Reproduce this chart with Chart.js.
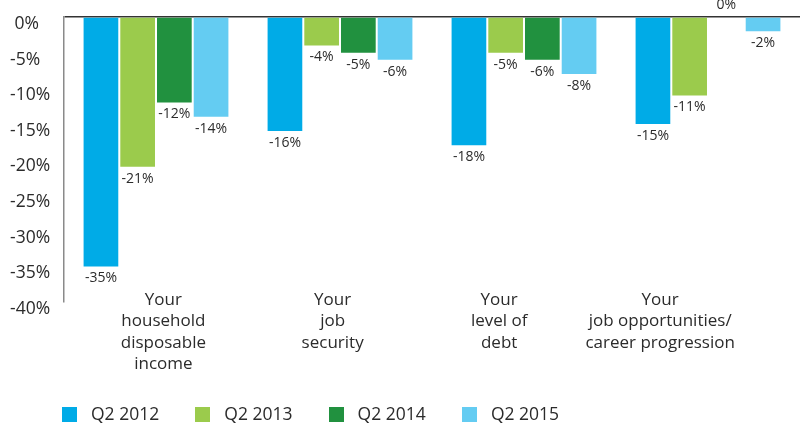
<!DOCTYPE html>
<html>
<head>
<meta charset="utf-8">
<script src="https://cdn.jsdelivr.net/npm/chart.js@4/dist/chart.umd.min.js"></script>
<style>
  html, body { margin: 0; padding: 0; background: #ffffff; }
  #wrap { width: 809px; height: 427px; position: relative; }
</style>
</head>
<body>
<div id="wrap"><canvas id="c" width="809" height="427"></canvas></div>
<script>
// ---- data ----
const categories = [
  ['Your', 'household', 'disposable', 'income'],
  ['Your', 'job', 'security'],
  ['Your', 'level of', 'debt'],
  ['Your', 'job opportunities/', 'career progression']
];
const seriesNames = ['Q2 2012', 'Q2 2013', 'Q2 2014', 'Q2 2015'];
const q2_2012 = [-35, -16, -18, -15];
const q2_2013 = [-21, -4, -5, -11];
const q2_2014 = [-12, -5, -6, 0];
const q2_2015 = [-14, -6, -8, -2];
const yTicks = [0, -5, -10, -15, -20, -25, -30, -35, -40];

// ---- styles ----
const colors = ['#00ABE7', '#9BCB4C', '#21913F', '#64CCF2'];
const FONT = '"Open Sans", "Noto Sans", sans-serif';
const TEXT = '#2b2b2b';
// where the category captions sit along the x axis (in category units)
const captionPos = [0.04, 0.96, 1.865, 2.74];

const valueLabels = {
  id: 'valueLabels',
  afterDatasetsDraw(chart) {
    const ctx = chart.ctx;
    ctx.save();
    ctx.font = '14px ' + FONT;
    ctx.fillStyle = TEXT;
    ctx.textAlign = 'center';
    ctx.textBaseline = 'middle';
    chart.data.datasets.forEach((ds, di) => {
      const meta = chart.getDatasetMeta(di);
      meta.data.forEach((bar, i) => {
        const v = ds.data[i];
        const y = v < 0 ? bar.y + 12 : bar.y - 12;
        ctx.fillText(Math.round(v) + '%', bar.x, y);
      });
    });
    ctx.restore();
  }
};

const bottomLegend = {
  id: 'bottomLegend',
  afterDraw(chart) {
    const ctx = chart.ctx;
    ctx.save();
    ctx.font = '17.5px ' + FONT;
    ctx.textBaseline = 'middle';
    ctx.textAlign = 'left';
    const x0 = 62, step = 133.3, yTop = 407, box = 15;
    chart.data.datasets.forEach((ds, i) => {
      const x = x0 + i * step;
      ctx.fillStyle = ds.backgroundColor;
      ctx.fillRect(Math.round(x), yTop, box, box);
      ctx.fillStyle = TEXT;
      ctx.fillText(ds.label, x + box + 14, yTop + box / 2 + 1);
    });
    ctx.restore();
  }
};

const seriesValues = [q2_2012, q2_2013, q2_2014, q2_2015];

new Chart(document.getElementById('c'), {
  type: 'bar',
  data: {
    labels: categories,
    datasets: seriesNames.map((name, i) => ({
      label: name,
      data: seriesValues[i],
      backgroundColor: colors[i],
      borderWidth: 0,
      categoryPercentage: 0.798,
      barPercentage: 0.945
    }))
  },
  options: {
    responsive: false,
    animation: false,
    devicePixelRatio: 1,
    layout: { padding: { left: 10, right: 9, top: 17, bottom: 0 } },
    plugins: {
      legend: { display: false },
      tooltip: { enabled: false },
      title: { display: false }
    },
    scales: {
      x: {
        type: 'category',
        display: false,
        offset: true
      },
      xl: {
        type: 'linear',
        position: 'bottom',
        offset: false,
        min: -0.5,
        max: 3.5,
        afterBuildTicks(scale) {
          scale.ticks = captionPos.map(v => ({ value: v }));
        },
        afterFit(scale) { scale.height = 125; },
        afterUpdate(scale) { scale._computeLabelArea = () => undefined; },
        grid: { display: false, drawTicks: false, offset: false },
        border: { display: false },
        ticks: {
          autoSkip: false,
          maxRotation: 0,
          minRotation: 0,
          padding: -13,
          color: TEXT,
          font: { family: FONT, size: 17, lineHeight: 1.27 },
          callback: (v, i) => categories[i]
        }
      },
      y: {
        type: 'linear',
        min: -40,
        max: 0,
        afterBuildTicks(scale) {
          scale.ticks = yTicks.map(v => ({ value: v }));
        },
        afterFit(scale) { scale.width = 54; },
        grid: {
          drawTicks: false,
          color: ctx => (ctx.tick && ctx.tick.value === 0) ? '#333333' : 'rgba(0,0,0,0)',
          lineWidth: 1.5
        },
        border: { display: true, color: '#8a8a8a', width: 1.5 },
        ticks: {
          crossAlign: 'far',
          labelOffset: 7,
          color: TEXT,
          font: { family: FONT, size: 17.5 },
          callback: v => (v < 0 ? '-' + Math.abs(v) : ' ' + v) + '%'
        }
      }
    }
  },
  plugins: [valueLabels, bottomLegend]
});
</script>
</body>
</html>
